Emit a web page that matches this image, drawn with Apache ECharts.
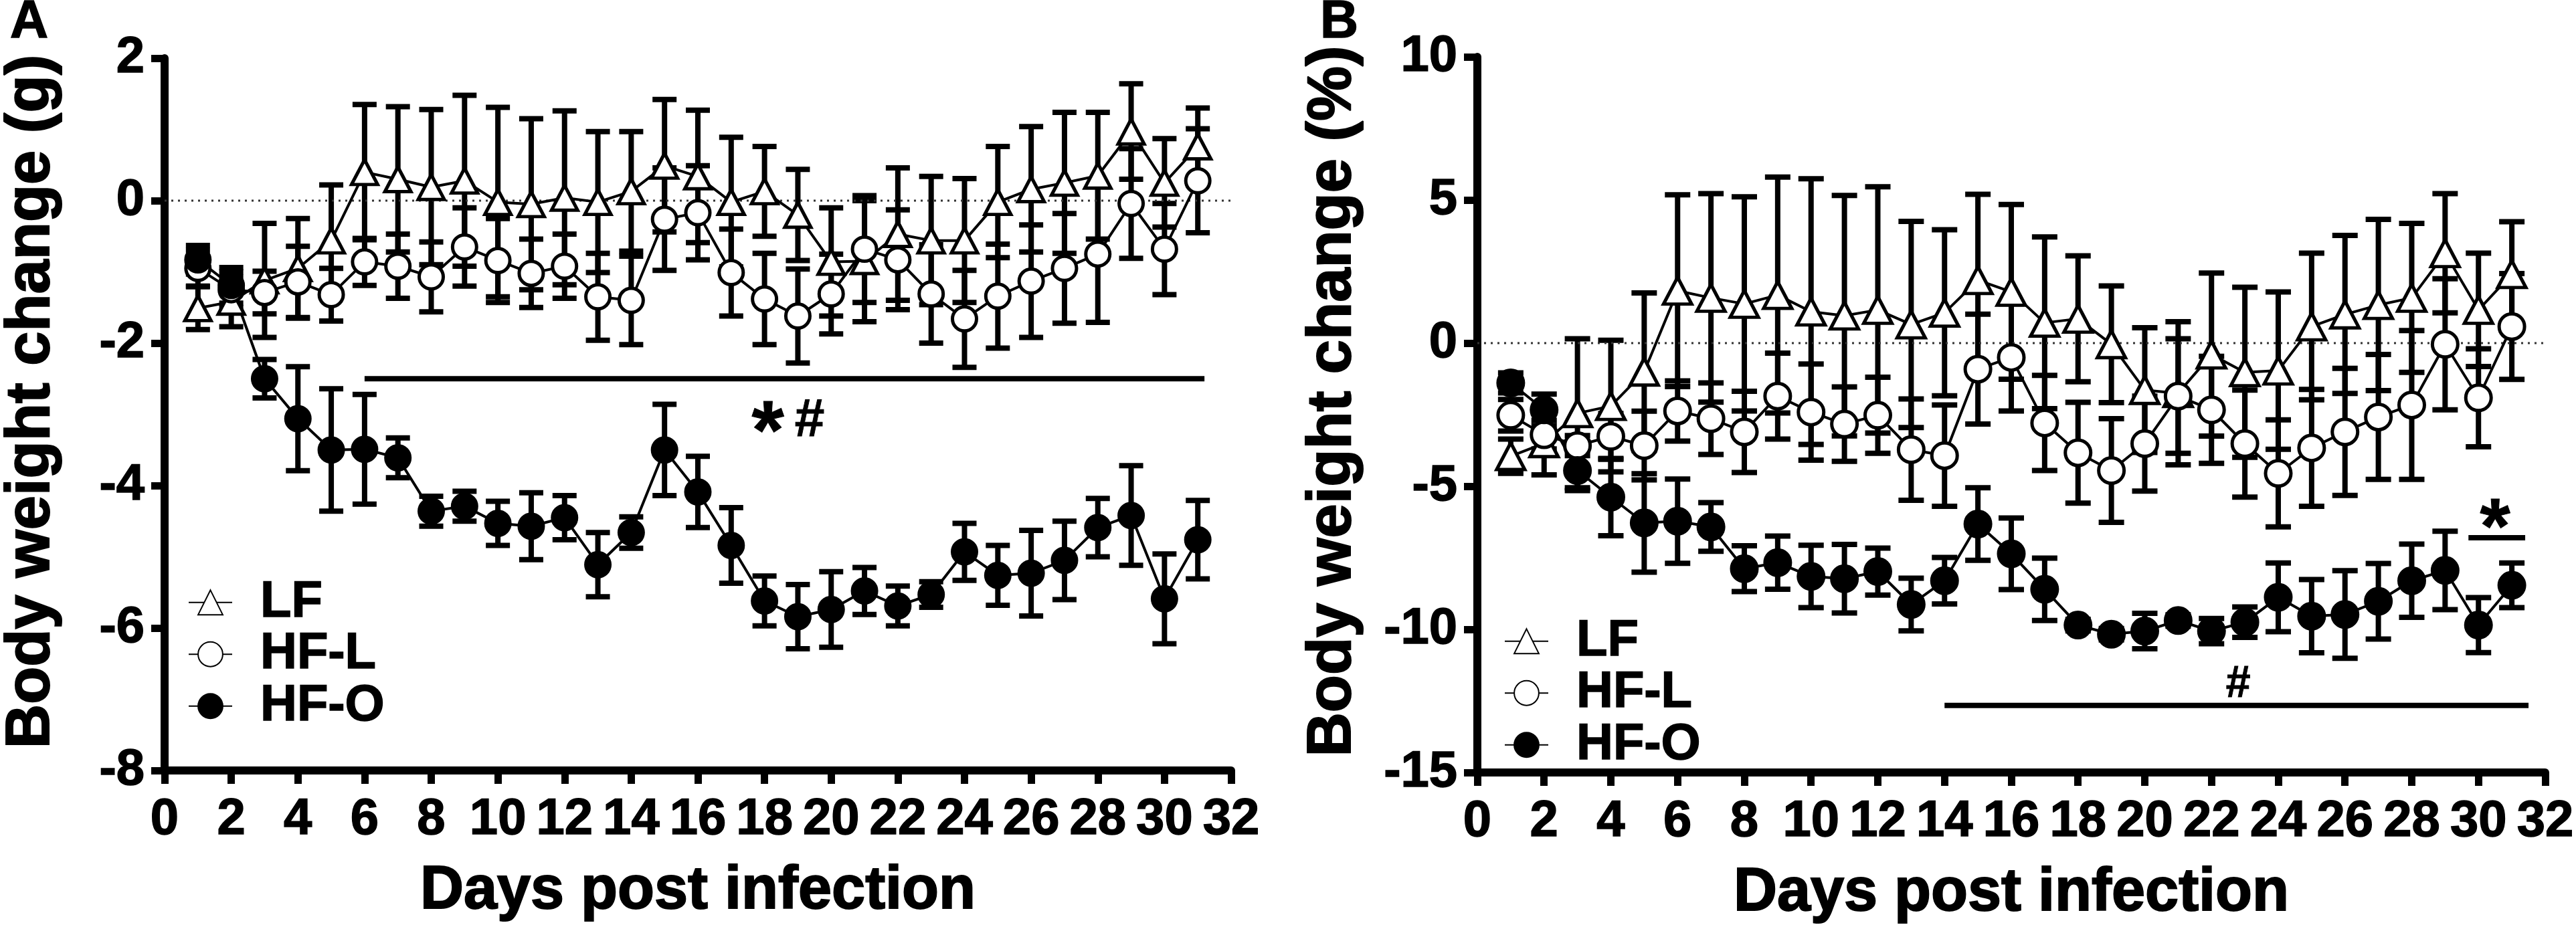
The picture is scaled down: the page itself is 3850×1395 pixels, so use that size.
<!DOCTYPE html>
<html>
<head>
<meta charset="utf-8">
<script src="https://cdn.jsdelivr.net/npm/echarts@6/dist/echarts.min.js"></script>
<style>
  html, body { margin: 0; padding: 0; background: #fff; }
  #main { width: 3850px; height: 1395px; }
</style>
</head>
<body>
<div id="main"></div>
<script>
// days post infection
var days = [1,2,3,4,5,6,7,8,9,10,11,12,13,14,15,16,17,18,19,20,21,22,23,24,25,26,27,28,29,30,31];

// panel A: body weight change (g), mean and SEM
var lfA     = [-1.51,-1.42,-1.12,-0.95,-0.56,0.40,0.30,0.19,0.28,-0.02,-0.05,0.04,-0.02,0.13,0.49,0.34,-0.02,0.13,-0.20,-0.86,-0.85,-0.47,-0.56,-0.56,-0.02,0.16,0.25,0.35,0.97,0.25,0.76];
var lfAErr  = [0.30,0.35,0.80,0.70,0.78,0.95,1.02,1.09,1.20,1.33,1.20,1.22,0.99,0.84,0.93,0.93,0.91,0.63,0.64,0.76,0.85,0.93,0.90,0.87,0.78,0.88,0.99,0.89,0.67,0.62,0.54];
var hflA    = [-0.95,-1.25,-1.29,-1.14,-1.32,-0.86,-0.92,-1.07,-0.65,-0.84,-1.02,-0.92,-1.35,-1.40,-0.26,-0.17,-1.01,-1.38,-1.62,-1.31,-0.68,-0.83,-1.31,-1.66,-1.34,-1.13,-0.95,-0.75,-0.04,-0.68,0.28];
var hflAErr = [0.25,0.25,0.30,0.50,0.37,0.33,0.45,0.49,0.55,0.59,0.48,0.45,0.61,0.62,0.72,0.66,0.61,0.64,0.66,0.56,0.75,0.70,0.69,0.68,0.73,0.79,0.77,0.96,0.77,0.64,0.73];
var hfoA    = [-0.83,-1.19,-2.50,-3.06,-3.50,-3.49,-3.61,-4.36,-4.29,-4.53,-4.57,-4.45,-5.11,-4.66,-3.50,-4.09,-4.84,-5.62,-5.84,-5.74,-5.48,-5.69,-5.53,-4.93,-5.26,-5.23,-5.05,-4.59,-4.42,-5.59,-4.76];
var hfoAErr = [0.20,0.25,0.27,0.73,0.86,0.77,0.28,0.21,0.21,0.31,0.47,0.31,0.45,0.22,0.64,0.50,0.53,0.35,0.45,0.53,0.33,0.28,0.18,0.40,0.42,0.60,0.55,0.41,0.70,0.63,0.55];

// panel B: body weight change (%), mean and SEM
var lfB     = [-3.95,-3.50,-2.45,-2.20,-1.00,1.83,1.58,1.37,1.68,1.10,0.96,1.16,0.65,1.06,2.20,1.79,0.71,0.85,-0.04,-1.64,-1.75,-0.40,-1.02,-0.96,0.58,1.00,1.33,1.58,3.14,1.16,2.41];
var lfBErr  = [0.60,1.10,2.60,2.30,2.75,3.35,3.64,3.74,4.12,4.64,4.20,4.30,3.60,2.90,3.00,3.05,3.00,2.20,2.04,2.18,2.50,2.85,2.97,2.75,2.56,2.76,2.99,2.60,2.08,1.98,1.83];
var hflB    = [-2.52,-3.20,-3.58,-3.26,-3.58,-2.37,-2.64,-3.10,-1.85,-2.41,-2.83,-2.52,-3.72,-3.93,-0.91,-0.50,-2.79,-3.83,-4.45,-3.51,-1.85,-2.33,-3.51,-4.55,-3.66,-3.10,-2.58,-2.16,-0.04,-1.91,0.58];
var hflBErr = [0.55,0.50,0.35,0.80,1.20,1.05,1.25,1.42,1.50,1.68,1.30,1.33,1.77,1.77,1.92,1.87,1.66,1.76,1.81,1.66,2.00,1.87,1.87,1.87,2.04,2.22,2.18,2.60,2.29,1.71,1.85];
var hfoB    = [-1.39,-2.33,-4.45,-5.38,-6.28,-6.22,-6.42,-7.88,-7.67,-8.15,-8.23,-7.98,-9.13,-8.30,-6.32,-7.36,-8.60,-9.85,-10.17,-10.06,-9.69,-10.06,-9.75,-8.88,-9.54,-9.48,-9.02,-8.30,-7.94,-9.85,-8.46];
var hfoBErr = [0.35,0.55,0.70,1.35,1.72,1.47,0.85,0.80,0.93,1.09,1.20,0.82,0.92,0.81,1.27,1.25,1.09,0.20,0.20,0.62,0.20,0.44,0.53,1.20,1.28,1.53,1.32,1.28,1.37,0.96,0.78];

// significance marks
var sigLineA  = [[6, -2.5], [31.2, -2.5]];
var sigTextA  = [[18.1, -3.05, '*'], [19.35, -3.1, '#']];
var sigLineB1 = [[14, -12.66], [31.5, -12.66]];
var sigLineB2 = [[29.7, -6.8], [31.4, -6.8]];
var sigTextB  = [[22.8, -11.93, '#'], [30.5, -6.0, '*']];
var zeroLine  = [[0, 0], [32, 0]];

var groups = ['LF', 'HF-L', 'HF-O'];

var FONT = '"Liberation Sans", Arial, sans-serif';
var myChart = echarts.init(document.getElementById('main'));

// slight outline to get the heavy Prism look
function boldText(size, extra) {
  var s = { fontSize: size, fontWeight: 'bold', fontFamily: FONT, color: '#000',
            textBorderColor: '#000', textBorderWidth: 1.5 };
  for (var k in extra) s[k] = extra[k];
  return s;
}

function lineSeries(name, vals, gi, sym, size, fill) {
  return {
    type: 'line', name: name, xAxisIndex: gi, yAxisIndex: gi,
    data: days.map(function (d, i) { return [d, vals[i]]; }),
    symbol: sym, symbolSize: size, showSymbol: true, showAllSymbol: true,
    itemStyle: { color: fill, borderColor: '#000', borderWidth: 5 },
    lineStyle: { color: '#000', width: 4 },
    emphasis: { disabled: true }, z: 3
  };
}

function errSeries(vals, errs, gi, capW) {
  return {
    type: 'custom', xAxisIndex: gi, yAxisIndex: gi, z: 1, silent: true,
    data: days.map(function (d, i) { return [d, vals[i] - errs[i], vals[i] + errs[i]]; }),
    encode: { x: 0, y: [1, 2] },
    renderItem: function (params, api) {
      var x = api.value(0);
      var lo = api.coord([x, api.value(1)]);
      var hi = api.coord([x, api.value(2)]);
      var h = capW / 2;
      var st = { stroke: '#000', lineWidth: 8 };
      return { type: 'group', children: [
        { type: 'line', shape: { x1: lo[0], y1: lo[1], x2: hi[0], y2: hi[1] }, style: st },
        { type: 'line', shape: { x1: lo[0] - h, y1: lo[1], x2: lo[0] + h, y2: lo[1] }, style: st },
        { type: 'line', shape: { x1: hi[0] - h, y1: hi[1], x2: hi[0] + h, y2: hi[1] }, style: st }
      ]};
    }
  };
}

function plainLine(pts, gi, style) {
  return { type: 'line', data: pts, xAxisIndex: gi, yAxisIndex: gi, symbol: 'none',
           lineStyle: style, z: 2, silent: true };
}

function textMarks(items, gi, sizes) {
  return {
    type: 'scatter', xAxisIndex: gi, yAxisIndex: gi, symbolSize: 0, silent: true, z: 5,
    itemStyle: { color: '#000', opacity: 1 },
    data: items.map(function (t) {
      return { value: [t[0], t[1]], label: { show: true, position: 'inside', formatter: t[2],
        fontSize: sizes[t[2]], fontWeight: 'bold', fontFamily: FONT, color: '#000', opacity: 1,
        textBorderColor: '#000', textBorderWidth: 1,
        offset: t[2] === '*' ? [0, sizes[t[2]] * 0.22] : [0, 0] } };
    })
  };
}

function xAxisOf(gi) {
  return {
    type: 'value', gridIndex: gi, min: 0, max: 32, interval: 2,
    name: 'Days post infection', nameLocation: 'middle', nameGap: 136,
    nameTextStyle: boldText(90, { textBorderWidth: 2 }),
    axisLine: { onZero: false, lineStyle: { color: '#000', width: 12 } },
    axisTick: { length: 20, lineStyle: { color: '#000', width: 11 } },
    axisLabel: boldText(76, { margin: 36 }),
    splitLine: { show: false }
  };
}

function yAxisOf(gi, min, max, step, title, gap, shift) {
  return {
    type: 'value', gridIndex: gi, min: min, max: max, interval: step,
    name: title, nameLocation: 'middle', nameGap: gap,
    nameTextStyle: boldText(92, { textBorderWidth: 2, padding: [0, 0, 0, shift] }),
    axisLine: { show: true, onZero: false, lineStyle: { color: '#000', width: 12 } },
    axisTick: { show: true, length: 20, lineStyle: { color: '#000', width: 11 } },
    axisLabel: boldText(76, { margin: 30 }),
    splitLine: { show: false }
  };
}

function legendOf(left, top, rowH) {
  return {
    data: groups, orient: 'vertical', left: left, top: top, padding: 0, itemGap: 0,
    itemWidth: 65, itemHeight: 46, selectedMode: false,
    textStyle: boldText(76, { lineHeight: rowH, padding: [0, 0, 0, 37] })
  };
}

option = {
  animation: false,
  backgroundColor: '#fff',
  title: [
    { text: 'A', left: 15, top: -5, padding: 0, textStyle: boldText(79, {}) },
    { text: 'B', left: 1973, top: -5, padding: 0, textStyle: boldText(79, {}) }
  ],
  legend: [ legendOf(281, 862, 74), legendOf(2248, 920, 72) ],
  grid: [
    { left: 240, top: 87, width: 1600, height: 1065 },
    { left: 2208, top: 85, width: 1597, height: 1070 }
  ],
  xAxis: [ xAxisOf(0), xAxisOf(1) ],
  yAxis: [
    yAxisOf(0, -8, 2, 2, 'Body weight change (g)', 152, 38),
    yAxisOf(1, -15, 10, 5, 'Body weight change (%)', 169, 40)
  ],
  series: [
    plainLine(zeroLine, 0, { color: '#333', width: 3, type: [3, 7] }),
    plainLine(zeroLine, 1, { color: '#333', width: 3, type: [3, 7] }),
    errSeries(lfA, lfAErr, 0, 36),
    errSeries(hflA, hflAErr, 0, 36),
    errSeries(hfoA, hfoAErr, 0, 36),
    errSeries(lfB, lfBErr, 1, 38),
    errSeries(hflB, hflBErr, 1, 38),
    errSeries(hfoB, hfoBErr, 1, 38),
    lineSeries('LF', lfA, 0, 'triangle', [39, 37], '#fff'),
    lineSeries('HF-L', hflA, 0, 'circle', 36, '#fff'),
    lineSeries('HF-O', hfoA, 0, 'circle', 36, '#000'),
    lineSeries('LF', lfB, 1, 'triangle', [42, 40], '#fff'),
    lineSeries('HF-L', hflB, 1, 'circle', 38, '#fff'),
    lineSeries('HF-O', hfoB, 1, 'circle', 38, '#000'),
    plainLine(sigLineA, 0, { color: '#000', width: 8 }),
    plainLine(sigLineB1, 1, { color: '#000', width: 8 }),
    plainLine(sigLineB2, 1, { color: '#000', width: 8 }),
    textMarks(sigTextA, 0, { '*': 124, '#': 80 }),
    textMarks(sigTextB, 1, { '*': 116, '#': 66 })
  ]
};

myChart.setOption(option);
</script>
</body>
</html>
